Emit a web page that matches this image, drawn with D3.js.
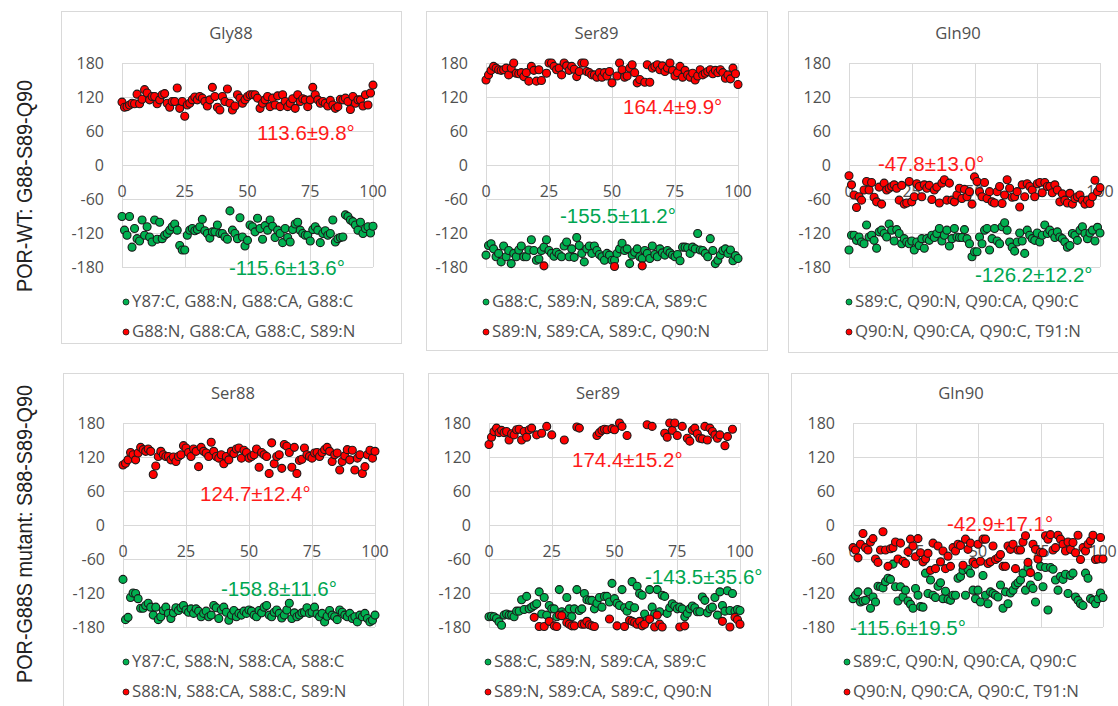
<!DOCTYPE html>
<html>
<head>
<meta charset="utf-8">
<script src="https://cdn.jsdelivr.net/npm/d3@7"></script>
<style>
  body { margin: 0; background: #fff; }
  svg { display: block; }
</style>
</head>
<body>
<div id="chart"></div>
<script>
// ---- data ----
const xTicks = [0, 25, 50, 75, 100];
const yTicks = [-180, -120, -60, 0, 60, 120, 180];

const rowLabels = ["POR-WT: G88-S89-Q90", "POR-G88S mutant: S88-S89-Q90"];
const panelTitles = ["Gly88", "Ser89", "Gln90", "Ser88", "Ser89", "Gln90"];

const greenLegend = [
  "Y87:C, G88:N, G88:CA, G88:C", "G88:C, S89:N, S89:CA, S89:C", "S89:C, Q90:N, Q90:CA, Q90:C",
  "Y87:C, S88:N, S88:CA, S88:C", "S88:C, S89:N, S89:CA, S89:C", "S89:C, Q90:N, Q90:CA, Q90:C"
];
const redLegend = [
  "G88:N, G88:CA, G88:C, S89:N", "S89:N, S89:CA, S89:C, Q90:N", "Q90:N, Q90:CA, Q90:C, T91:N",
  "S88:N, S88:CA, S88:C, S89:N", "S89:N, S89:CA, S89:C, Q90:N", "Q90:N, Q90:CA, Q90:C, T91:N"
];
const greenStats = ["-115.6±13.6°", "-155.5±11.2°", "-126.2±12.2°", "-158.8±11.6°", "-143.5±35.6°", "-115.6±19.5°"];
const redStats = ["113.6±9.8°", "164.4±9.9°", "-47.8±13.0°", "124.7±12.4°", "174.4±15.2°", "-42.9±17.1°"];

// WT Gly88
const wtGly88Green = [
  -91, -115, -124, -91, -145, -112, -130, -134, -97, -124,
  -109, -127, -136, -97, -131, -101, -130, -124, -121, -115,
  -109, -104, -115, -142, -150, -150, -124, -115, -112, -116,
  -114, -109, -96, -116, -121, -129, -118, -118, -106, -121,
  -121, -127, -131, -81, -115, -121, -130, -93, -127, -143,
  -133, -106, -109, -118, -94, -112, -131, -107, -115, -97,
  -108, -128, -115, -121, -137, -112, -128, -136, -114, -104,
  -101, -115, -121, -124, -124, -134, -114, -109, -115, -137,
  -121, -116, -124, -121, -97, -136, -130, -128, -127, -88,
  -91, -97, -100, -106, -115, -101, -121, -112, -109, -120, -108
];
const wtGly88Red = [
  111, 102, 103, 106, 109, 108, 125, 108, 116, 133,
  127, 115, 121, 121, 108, 115, 124, 126, 109, 102,
  112, 112, 136, 100, 112, 86, 106, 109, 115, 120,
  115, 121, 118, 112, 104, 115, 137, 121, 102, 97,
  121, 112, 134, 109, 97, 104, 124, 118, 109, 115,
  121, 124, 124, 124, 118, 100, 109, 115, 121, 103,
  118, 106, 122, 103, 124, 112, 103, 109, 117, 100,
  124, 112, 117, 115, 103, 115, 137, 124, 115, 109,
  112, 109, 104, 114, 106, 100, 103, 116, 115, 118,
  112, 98, 121, 109, 115, 115, 104, 124, 106, 127, 141
];
// WT Ser89
const wtSer89Green = [
  -159, -142, -139, -148, -162, -156, -171, -143, -162, -151,
  -174, -156, -162, -150, -143, -162, -162, -150, -132, -151,
  -168, -166, -151, -145, -132, -151, -156, -161, -154, -158,
  -162, -143, -136, -162, -148, -163, -128, -142, -156, -171,
  -148, -143, -156, -143, -151, -158, -162, -168, -156, -159,
  -168, -168, -156, -148, -138, -151, -148, -174, -159, -154,
  -148, -162, -165, -151, -156, -165, -143, -158, -162, -148,
  -155, -159, -151, -155, -159, -162, -158, -169, -145, -145,
  -146, -156, -145, -148, -121, -150, -151, -156, -162, -130,
  -151, -174, -168, -159, -151, -148, -156, -150, -169, -160, -165
];
const wtSer89Red = [
  150, 159, 167, 174, 171, 168, 167, 168, 171, 159,
  171, 180, 162, 161, 163, 156, 163, 148, 174, 167,
  148, 168, 149, -178, 162, 180, 180, 174, 168, 171,
  159, 180, 175, 167, 174, 169, 156, 165, 180, 180,
  165, 163, 159, 159, 155, 163, 155, 163, 157, 165,
  145, -179, 157, 180, 168, 155, 157, 171, 177, 163,
  145, 151, -178, 146, 177, 146, 171, 174, 177, 168,
  175, 165, 171, 180, 167, 157, 163, 174, 155, 167,
  159, 155, 162, 150, 157, 168, 159, 162, 165, 168,
  161, 167, 163, 168, 163, 153, 159, 152, 171, 161, 142
];
// WT Gln90
const wtGln90Green = [
  -150, -124, -124, -133, -127, -136, -139, -106, -127, -124,
  -133, -147, -118, -115, -121, -127, -104, -115, -134, -114,
  -121, -139, -130, -136, -139, -134, -150, -136, -142, -130,
  -147, -130, -133, -124, -128, -121, -112, -134, -124, -115,
  -143, -130, -112, -127, -128, -128, -114, -130, -139, -162,
  -153, -153, -127, -139, -115, -112, -150, -130, -112, -134,
  -139, -109, -102, -115, -136, -145, -152, -136, -120, -134,
  -156, -115, -124, -130, -133, -120, -136, -124, -106, -121,
  -115, -121, -128, -118, -127, -130, -136, -145, -142, -121,
  -124, -133, -115, -109, -121, -130, -120, -115, -134, -110, -120
];
const wtGln90Red = [
  -19, -35, -53, -75, -56, -62, -44, -29, -44, -31,
  -57, -65, -39, -69, -32, -44, -41, -38, -35, -41,
  -62, -36, -69, -67, -29, -65, -56, -33, -38, -56,
  -35, -41, -36, -61, -44, -39, -67, -32, -26, -62,
  -32, -62, -65, -53, -41, -59, -43, -56, -47, -69,
  -21, -29, -47, -56, -31, -59, -47, -65, -67, -47,
  -38, -68, -53, -26, -41, -57, -56, -47, -74, -35,
  -56, -33, -38, -44, -56, -33, -31, -49, -31, -38,
  -38, -49, -35, -44, -65, -51, -62, -67, -50, -69,
  -59, -56, -53, -62, -69, -62, -68, -56, -27, -47, -40
];
// G88S Ser88
const mutSer88Green = [
  -96, -167, -163, -128, -120, -121, -130, -147, -147, -142,
  -138, -145, -159, -145, -167, -162, -151, -145, -156, -165,
  -155, -146, -151, -146, -142, -150, -154, -148, -156, -148,
  -152, -162, -156, -152, -162, -159, -142, -146, -165, -150,
  -145, -154, -168, -159, -151, -162, -156, -159, -152, -156,
  -150, -152, -159, -162, -151, -155, -145, -142, -159, -162,
  -154, -150, -156, -164, -159, -150, -138, -165, -155, -162,
  -159, -155, -154, -146, -156, -154, -145, -157, -162, -156,
  -171, -161, -151, -159, -162, -167, -150, -154, -159, -162,
  -156, -165, -162, -171, -159, -162, -156, -165, -171, -168, -159
];
const mutSer88Red = [
  106, 109, 115, 128, 124, 115, 127, 137, 133, 130,
  134, 130, 89, 104, 121, 130, 124, 121, 121, 115,
  120, 112, 121, 124, 140, 136, 128, 121, 134, 130,
  103, 137, 130, 127, 121, 146, 130, 121, 118, 124,
  108, 121, 115, 130, 126, 134, 136, 118, 132, 128,
  118, 121, 124, 134, 102, 128, 124, 121, 91, 145,
  108, 121, 124, 100, 142, 139, 128, 102, 137, 91,
  114, 116, 136, 124, 121, 118, 127, 128, 121, 128,
  133, 137, 130, 112, 124, 127, 97, 112, 122, 133,
  115, 132, 97, 118, 124, 91, 103, 124, 132, 118, 130
];
// G88S Ser89
const mutSer89Green = [
  -162, -161, -162, -165, -171, -177, -159, -157, -159, -159,
  -162, -152, -152, -132, -149, -126, -148, -145, -142, -139,
  -118, -157, -128, -159, -142, -148, -148, -162, -114, -153,
  -157, -128, -148, -162, -148, -114, -151, -148, -121, -132,
  -133, -133, -148, -138, -128, -145, -126, -126, -136, -103,
  -130, -138, -142, -114, -146, -152, -142, -100, -146, -108,
  -121, -124, -157, -168, -114, -145, -157, -114, -153, -124,
  -126, -156, -146, -139, -143, -148, -145, -148, -162, -156,
  -148, -143, -146, -153, -153, -127, -133, -155, -148, -145,
  -128, -159, -118, -142, -152, -116, -151, -121, -152, -149, -151
];
const mutSer89Red = [
  142, 155, 165, 171, 163, 167, 163, 165, 150, 161,
  159, 168, 169, 150, 165, 155, 168, 171, -163, 159,
  -179, 162, -179, 174, -170, 159, -178, -179, -159, -160,
  150, -172, -175, -178, -178, 173, 171, -175, -175, -170,
  -176, -178, -179, 158, 163, 167, 169, 168, -166, 170,
  168, -178, 180, 174, -179, 158, -168, -170, -172, -175,
  -170, -178, -175, 177, -166, 174, -180, -159, -175, -180,
  162, 155, 180, 167, 180, 158, -180, 174, -178, 153,
  148, 167, 171, 161, 153, 152, 174, 150, 171, 165,
  159, 153, 159, -170, 140, 156, -180, 169, -163, -167, -175
];
// G88S Gln90
const mutGln90Green = [
  -130, -124, -118, -136, -134, -133, -118, -147, -127, -136,
  -108, -109, -111, -100, -94, -96, -69, -109, -134, -109,
  -127, -115, -134, -140, -147, -112, -124, -144, -145, -85,
  -121, -97, -124, -128, -108, -102, -130, -117, -131, -133,
  -124, -124, -94, -91, -80, -124, -78, -85, -115, -130,
  -115, -136, -89, -124, -139, -118, -121, -124, -127, -106,
  -147, -118, -139, -120, -115, -106, -102, -97, -85, -115,
  -75, -106, -112, -136, -91, -73, -109, -75, -150, -75,
  -78, -97, -115, -91, -96, -87, -121, -89, -85, -127,
  -133, -139, -142, -85, -94, -130, -133, -139, -130, -120, -128
];
const mutGln90Red = [
  -40, -44, -58, -34, -15, -40, -44, -30, -24, -60,
  -66, -44, -12, -44, -73, -42, -40, -30, -60, -32,
  -64, -68, -47, -25, -37, -56, -24, -49, -65, -60,
  -50, -80, -32, -77, -37, -65, -46, -77, -55, -73,
  -40, -46, -34, -36, -71, -25, -43, -32, -65, -69,
  -34, -64, -25, -25, -68, -65, -37, -61, -58, -52,
  -73, -73, -37, -43, -34, -77, -44, -44, -30, -19,
  -66, -84, -34, -43, -60, -48, -49, -19, -25, -17,
  -44, -40, -18, -25, -34, -46, -30, -43, -31, -49,
  -18, -61, -40, -46, -34, -28, -18, -61, -60, -22, -60
];

const greenSeries = [wtGly88Green, wtSer89Green, wtGln90Green, mutSer88Green, mutSer89Green, mutGln90Green];
const redSeries = [wtGly88Red, wtSer89Red, wtGln90Red, mutSer88Red, mutSer89Red, mutGln90Red];

// ---- layout ----
const width = 1118, height = 706;
const layouts = [
  { box: [61, 11, 401, 343],   plot: [122, 63, 373, 267], legendX: 132, red: [135, 77], green: [107, 212] },
  { box: [426, 11, 767, 350],  plot: [486, 63, 738, 267], legendX: 492, red: [137, 51], green: [74, 160] },
  { box: [788, 11, 1128, 352], plot: [849, 63, 1100, 267], legendX: 855, red: [29, 108], green: [126, 219] },
  { box: [63, 373, 403, 720],  plot: [123, 423, 375, 627], legendX: 132, red: [77, 78], green: [98, 173] },
  { box: [428, 373, 768, 720], plot: [489, 423, 740, 627], legendX: 494, red: [83, 44], green: [156, 161] },
  { box: [791, 373, 1131, 720], plot: [853, 423, 1103, 627], legendX: 853, red: [94, 108], green: [-3, 212] }
];

const GREEN = "#00b050", RED = "#ff0000", DOT_STROKE = "#1a1a1a";
const TEXT = "#505050";
const FONT = "'Open Sans', sans-serif";
const SANS = "'Liberation Sans', Arial, sans-serif";

const svg = d3.select("#chart").append("svg")
    .attr("width", width)
    .attr("height", height);

// row labels (rotated, slightly condensed like the original)
const rowCenters = [186, 534];
rowLabels.forEach((t, i) => {
  svg.append("text")
      .attr("transform", `translate(32,${rowCenters[i]}) rotate(-90) scale(0.9,1)`)
      .attr("text-anchor", "middle")
      .style("font-family", SANS)
      .style("font-size", "22px")
      .style("fill", "#222")
      .text(t);
});

layouts.forEach((L, i) => {
  const g = svg.append("g");
  const [bx0, by0, bx1, by1] = L.box;
  const [px0, py0, px1, py1] = L.plot;

  g.append("rect")
      .attr("x", bx0 + 0.5).attr("y", by0 + 0.5)
      .attr("width", bx1 - bx0).attr("height", by1 - by0)
      .attr("fill", "#fff")
      .attr("stroke", "#d9d9d9");

  const x = d3.scaleLinear().domain([0, 100]).range([px0, px1]);
  const y = d3.scaleLinear().domain([-180, 180]).range([py1, py0]);

  // title
  g.append("text")
      .attr("x", (bx0 + bx1) / 2)
      .attr("y", py0 - 24)
      .attr("text-anchor", "middle")
      .style("font-family", FONT).style("font-size", "16.6px").style("fill", TEXT)
      .text(panelTitles[i]);

  // gridlines
  g.selectAll(".hgrid").data(yTicks).enter().append("line")
      .attr("x1", px0).attr("x2", px1)
      .attr("y1", d => Math.round(y(d)) + 0.5).attr("y2", d => Math.round(y(d)) + 0.5)
      .attr("stroke", "#d9d9d9");
  g.selectAll(".vgrid").data(xTicks).enter().append("line")
      .attr("x1", d => Math.round(x(d)) + 0.5).attr("x2", d => Math.round(x(d)) + 0.5)
      .attr("y1", py0).attr("y2", py1)
      .attr("stroke", "#d9d9d9");

  // y tick labels
  g.selectAll(".ylab").data(yTicks).enter().append("text")
      .attr("x", px0 - 18)
      .attr("y", d => y(d) + 6)
      .attr("text-anchor", "end")
      .style("font-family", FONT).style("font-size", "16px").style("fill", TEXT)
      .text(d => d);

  // x tick labels sit under the zero line
  g.selectAll(".xlab").data(xTicks).enter().append("text")
      .attr("x", d => x(d))
      .attr("y", y(0) + 32)
      .attr("text-anchor", "middle")
      .style("font-family", FONT).style("font-size", "16px").style("fill", TEXT)
      .text(d => d);

  // points: green first, red on top
  g.selectAll(".pg").data(greenSeries[i]).enter().append("circle")
      .attr("cx", (d, k) => x(k)).attr("cy", d => y(d))
      .attr("r", 4)
      .attr("fill", GREEN).attr("stroke", DOT_STROKE).attr("stroke-width", 1.1);
  g.selectAll(".pr").data(redSeries[i]).enter().append("circle")
      .attr("cx", (d, k) => x(k)).attr("cy", d => y(d))
      .attr("r", 4)
      .attr("fill", RED).attr("stroke", DOT_STROKE).attr("stroke-width", 1.1);

  // mean ± sd annotations
  g.append("text")
      .attr("x", px0 + L.red[0]).attr("y", py0 + L.red[1])
      .style("font-family", SANS)
      .style("font-size", "20.5px").style("fill", "#ff1a1a")
      .text(redStats[i]);
  g.append("text")
      .attr("x", px0 + L.green[0]).attr("y", py0 + L.green[1])
      .style("font-family", SANS)
      .style("font-size", "20.5px").style("fill", "#00a651")
      .text(greenStats[i]);

  // legend
  const rows = [
    { label: greenLegend[i], fill: GREEN, dy: 40 },
    { label: redLegend[i], fill: RED, dy: 70 }
  ];
  rows.forEach(r => {
    g.append("circle")
        .attr("cx", L.legendX - 6).attr("cy", py1 + r.dy - 5)
        .attr("r", 3)
        .attr("fill", r.fill).attr("stroke", DOT_STROKE).attr("stroke-width", 0.8);
    g.append("text")
        .attr("x", L.legendX).attr("y", py1 + r.dy)
        .style("font-family", FONT).style("font-size", "16.8px").style("fill", TEXT)
        .text(r.label);
  });
});
</script>
</body>
</html>
